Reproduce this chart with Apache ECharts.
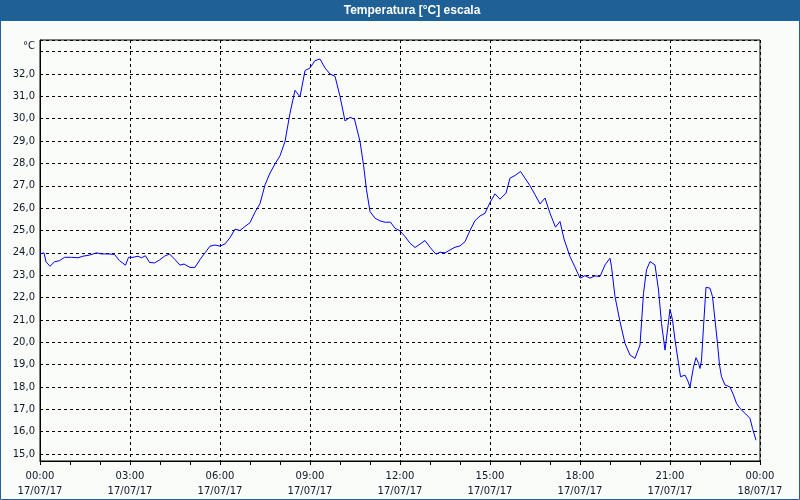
<!DOCTYPE html>
<html>
<head>
<meta charset="utf-8">
<script src="https://cdn.jsdelivr.net/npm/echarts@6/dist/echarts.min.js"></script>
<style>html,body{margin:0;padding:0;background:#fafcfa;}#c{width:800px;height:500px;}</style>
</head>
<body>
<div id="c"></div>
<script>
// Time of each reading, minutes after 17/07/17 00:00
var minutes = [0,8,12,20,29,39,49,63,76,86,99,113,123,136,149,159,171,177,186,196,203,211,219,229,239,249,259,270,280,288,300,310,320,330,340,350,360,370,380,390,400,410,420,430,440,450,460,470,480,490,500,510,520,530,540,550,560,570,580,590,600,610,620,629,640,647,653,660,670,680,690,701,710,720,730,740,750,760,770,780,792,800,810,820,830,840,850,860,870,880,890,900,910,920,932,940,950,961,970,980,990,1000,1010,1020,1031,1040,1048,1060,1070,1080,1090,1100,1110,1120,1130,1140,1143,1150,1160,1170,1180,1190,1200,1207,1213,1220,1230,1237,1243,1250,1255,1260,1265,1270,1277,1281,1290,1295,1300,1307,1312,1317,1320,1323,1327,1332,1340,1345,1350,1355,1359,1363,1370,1380,1387,1393,1400,1410,1420,1425,1432];
// Temperature in °C
var temps = [23.95,24.0,23.6,23.4,23.6,23.65,23.8,23.8,23.78,23.85,23.9,24.0,23.95,23.95,23.93,23.65,23.45,23.8,23.8,23.85,23.78,23.87,23.57,23.55,23.68,23.85,23.95,23.7,23.45,23.5,23.35,23.35,23.7,24.0,24.3,24.35,24.3,24.4,24.68,25.06,25.0,25.18,25.35,25.82,26.2,27.04,27.57,27.98,28.34,28.98,30.25,31.27,30.98,32.15,32.27,32.6,32.67,32.27,32.0,31.9,31.0,29.9,30.06,29.98,28.98,27.94,26.82,25.85,25.55,25.43,25.37,25.37,25.1,24.98,24.73,24.43,24.24,24.39,24.55,24.25,23.94,24.03,24.0,24.13,24.25,24.31,24.5,25.0,25.44,25.65,25.77,26.25,26.64,26.4,26.67,27.34,27.46,27.64,27.34,27.0,26.6,26.19,26.45,25.77,25.15,25.4,24.62,23.83,23.36,22.87,22.98,22.87,22.97,22.94,23.46,23.76,23.38,22.04,20.92,19.95,19.43,19.28,19.88,22.19,23.24,23.61,23.46,22.34,20.85,19.65,20.55,21.48,21.0,20.1,19.06,18.46,18.53,18.31,18.0,18.9,19.31,19.06,18.83,19.2,20.7,22.46,22.42,22.04,21.0,19.95,18.98,18.46,18.09,18.0,17.64,17.27,17.04,16.82,16.6,16.15,15.62];
var titleText = 'Temperatura [°C] escala';
var unitText = '°C';
var dates = ['17/07/17', '18/07/17'];

var chart = echarts.init(document.getElementById('c'));
var data = minutes.map(function (m, i) { return [m, temps[i]]; });
var FONT = 'DejaVu Sans';
var TXT = '#101828';

chart.setOption({
  animation: false,
  backgroundColor: '#fafcfa',
  graphic: [
    { type: 'rect', shape: { x: 0, y: 0, width: 800, height: 21 }, style: { fill: '#1f6096' }, silent: true },
    { type: 'rect', shape: { x: 0.5, y: 0.5, width: 799, height: 499 }, style: { fill: null, stroke: '#1f6096', lineWidth: 1 }, silent: true },
    { type: 'text', x: 412, y: 11, style: { text: titleText, fill: '#ffffff', font: 'bold 12px "Liberation Sans"', align: 'center', verticalAlign: 'middle' }, silent: true },
    { type: 'text', x: 35, y: 46, style: { text: unitText, fill: TXT, font: '10px "' + FONT + '"', align: 'right', verticalAlign: 'middle' }, silent: true }
  ],
  grid: { left: 40, right: 40, top: 40, bottom: 39, show: true, borderColor: '#000', borderWidth: 1, backgroundColor: 'transparent' },
  xAxis: {
    type: 'value', min: 0, max: 1440, interval: 180,
    axisLine: { show: true, lineStyle: { color: '#000', width: 1 } },
    axisTick: { show: true, length: 4, lineStyle: { color: '#000' } },
    minorTick: { show: true, splitNumber: 3, length: 4, lineStyle: { color: '#000' } },
    splitLine: { show: true, lineStyle: { color: '#000', type: [3, 3], width: 1 } },
    axisLabel: {
      margin: 8, color: TXT, fontFamily: FONT, fontSize: 10, lineHeight: 15,
      showMinLabel: true, showMaxLabel: true,
      formatter: function (v) {
        var h = Math.round(v / 60);
        var hh = h % 24;
        var d = h >= 24 ? dates[1] : dates[0];
        return (hh < 10 ? '0' : '') + hh + ':00\n' + d;
      }
    }
  },
  yAxis: {
    type: 'value', min: 14.69, max: 33.52, splitNumber: 19,
    axisLine: { show: true, lineStyle: { color: '#000', width: 1 } },
    axisTick: { show: false },
    splitLine: { show: true, lineStyle: { color: '#000', type: [3, 3], width: 1 } },
    axisLabel: {
      margin: 5, color: TXT, fontFamily: FONT, fontSize: 10,
      showMinLabel: true, showMaxLabel: true,
      formatter: function (v) {
        if (Math.abs(v - Math.round(v)) > 1e-6 || v < 15 || v > 32.001) return '';
        return v.toFixed(1).replace('.', ',');
      }
    }
  },
  series: [{
    type: 'line', data: data, showSymbol: false, symbol: 'none',
    lineStyle: { color: '#0000ff', width: 1 }, itemStyle: { color: '#0000ff' }
  }]
});
</script>
</body>
</html>
